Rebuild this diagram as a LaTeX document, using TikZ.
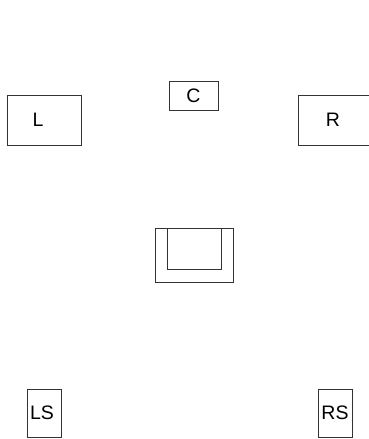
\documentclass[tikz,border=0pt]{standalone}
\usepackage{fontspec}
\setmainfont{Liberation Sans}
\usepackage{tikz}
\usetikzlibrary{positioning}

\begin{document}
\begin{tikzpicture}[
    x=1pt, y=1pt,
    font=\fontsize{19.5}{22}\selectfont,
    spk/.style={draw=black!80, line width=0.8pt, inner sep=0pt},
    front/.style={spk, minimum width=74pt, minimum height=50pt},
    centre/.style={spk, minimum width=49pt, minimum height=29pt},
    surr/.style={spk, minimum width=34pt, minimum height=48pt},
    chair/.style={draw=black!80, line width=0.8pt, inner sep=0pt}
]
\clip (0,0) rectangle (369,439);
\fill[white] (0,0) rectangle (369,439);

% ---------- front speakers ----------
\node[front] (left) at (44,319) {\hspace*{-12pt}L};
\node[centre] (center) at (193.5,343.5) {C};
\node[front] (right) at (335,319) {\hspace*{-4pt}R};

% ---------- listener seat ----------
\node[chair, minimum width=78pt, minimum height=54pt] (seat) at (194,184) {};
\node[chair, minimum width=54pt, minimum height=41pt, below=0pt of seat.north] (back) {};

% ---------- surround speakers ----------
\node[surr] (lsurr) at (44,26) {\hspace*{-4pt}LS};
\node[surr] (rsurr) at (335,26) {RS};

\end{tikzpicture}
\end{document}
